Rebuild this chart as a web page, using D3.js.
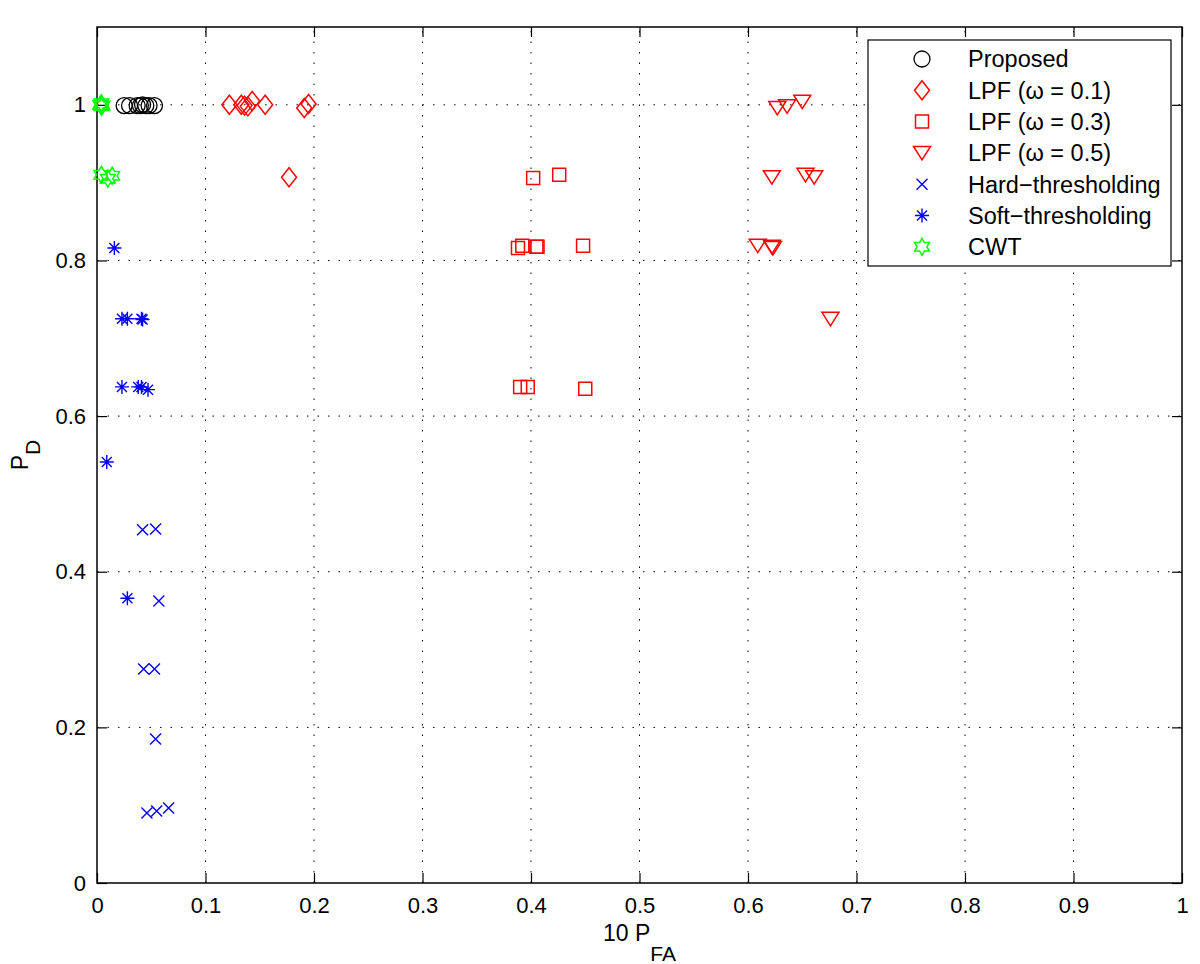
<!DOCTYPE html>
<html>
<head>
<meta charset="utf-8">
<script src="https://cdn.jsdelivr.net/npm/d3@7"></script>
<style>
  html, body { margin: 0; padding: 0; background: #fff; }
  svg { display: block; font-family: "Liberation Sans", Arial, Helvetica, sans-serif; }
</style>
</head>
<body>
<svg id="chart" width="1200" height="964"></svg>
<script>
// ---------------- data ----------------
const xTicks = [0, 0.1, 0.2, 0.3, 0.4, 0.5, 0.6, 0.7, 0.8, 0.9, 1];
const yTicks = [0, 0.2, 0.4, 0.6, 0.8, 1];
const xTickLabels = ["0", "0.1", "0.2", "0.3", "0.4", "0.5", "0.6", "0.7", "0.8", "0.9", "1"];
const yTickLabels = ["0", "0.2", "0.4", "0.6", "0.8", "1"];

const seriesNames = ["Proposed", "LPF (\u03C9 = 0.1)", "LPF (\u03C9 = 0.3)", "LPF (\u03C9 = 0.5)",
                     "Hard\u2212thresholding", "Soft\u2212thresholding", "CWT"];

const proposedX = [0.025, 0.030, 0.037, 0.040, 0.042, 0.045, 0.048, 0.053];
const proposedY = [0.999, 0.999, 0.999, 0.999, 1.000, 0.999, 0.999, 0.999];

const lpf1X = [0.122, 0.133, 0.136, 0.139, 0.143, 0.155, 0.191, 0.195, 0.177];
const lpf1Y = [1.000, 1.000, 0.999, 0.998, 1.005, 1.000, 0.996, 1.001, 0.907];

const lpf3X = [0.402, 0.426, 0.388, 0.392, 0.405, 0.406, 0.448, 0.390, 0.397, 0.450];
const lpf3Y = [0.906, 0.910, 0.816, 0.819, 0.8175, 0.8175, 0.819, 0.6375, 0.6375, 0.635];

const lpf5X = [0.627, 0.636, 0.650, 0.622, 0.653, 0.661, 0.609, 0.622, 0.623, 0.676];
const lpf5Y = [0.996, 0.998, 1.004, 0.907, 0.910, 0.907, 0.819, 0.8175, 0.816, 0.725];

const hardX = [0.042, 0.054, 0.057, 0.043, 0.053, 0.054, 0.046, 0.055, 0.066];
const hardY = [0.454, 0.455, 0.3625, 0.275, 0.275, 0.185, 0.090, 0.0925, 0.0964];

const softX = [0.016, 0.023, 0.028, 0.041, 0.042, 0.023, 0.038, 0.041, 0.047, 0.009, 0.028];
const softY = [0.816, 0.725, 0.725, 0.725, 0.724, 0.6375, 0.6375, 0.6375, 0.634, 0.541, 0.366];

const cwtX = [0.003, 0.004, 0.005, 0.004, 0.004, 0.010, 0.014];
const cwtY = [1.000, 1.002, 0.999, 0.998, 0.910, 0.905, 0.909];

// ---------------- layout ----------------
const svg = d3.select("#chart");
const L = 97, R = 1182, T = 27, B = 883;
const x = d3.scaleLinear().domain([0, 1]).range([L, R]);
const y = d3.scaleLinear().domain([0, 1.1]).range([B, T]);

// marker shapes
function markerPath(type) {
  switch (type) {
    case "circle": { const r = 8; return `M${-r},0A${r},${r} 0 1,0 ${r},0A${r},${r} 0 1,0 ${-r},0Z`; }
    case "diamond": return "M0,-9.5L7.5,0L0,9.5L-7.5,0Z";
    case "square": return "M-6.5,-6.5L6.5,-6.5L6.5,6.5L-6.5,6.5Z";
    case "triangle": return "M-8.5,-6.5L8.5,-6.5L0,7Z";
    case "x": return "M-5.5,-5.5L5.5,5.5M-5.5,5.5L5.5,-5.5";
    case "asterisk": return "M0,-7L0,7M-7,0L7,0M-5,-5L5,5M-5,5L5,-5";
    case "hexagram": {
      const Ro = 8.5, Ri = Ro / Math.sqrt(3);
      const pts = [];
      for (let i = 0; i < 12; i++) {
        const a = -Math.PI / 2 + i * Math.PI / 6;
        const rr = i % 2 === 0 ? Ro : Ri;
        pts.push([rr * Math.cos(a), rr * Math.sin(a)]);
      }
      return "M" + pts.map(p => p[0].toFixed(2) + "," + p[1].toFixed(2)).join("L") + "Z";
    }
  }
}

const series = [
  { name: seriesNames[0], xs: proposedX, ys: proposedY, type: "circle", color: "#000000", sw: 1.3 },
  { name: seriesNames[1], xs: lpf1X, ys: lpf1Y, type: "diamond", color: "#ff0000", sw: 1.5 },
  { name: seriesNames[2], xs: lpf3X, ys: lpf3Y, type: "square", color: "#ff0000", sw: 1.5 },
  { name: seriesNames[3], xs: lpf5X, ys: lpf5Y, type: "triangle", color: "#ff0000", sw: 1.5 },
  { name: seriesNames[4], xs: hardX, ys: hardY, type: "x", color: "#0000ff", sw: 1.4 },
  { name: seriesNames[5], xs: softX, ys: softY, type: "asterisk", color: "#0000ff", sw: 1.4 },
  { name: seriesNames[6], xs: cwtX, ys: cwtY, type: "hexagram", color: "#00ff00", sw: 1.5 }
];

// ---------------- grid ----------------
const grid = svg.append("g").attr("class", "grid");
grid.selectAll("line.gx").data(xTicks.filter(d => d > 0 && d < 1)).enter().append("line")
  .attr("x1", d => x(d)).attr("x2", d => x(d)).attr("y1", B).attr("y2", T)
  .attr("stroke", "#000").attr("stroke-width", 1).attr("stroke-dasharray", "1.5,9");
grid.selectAll("line.gy").data(yTicks.filter(d => d > 0)).enter().append("line")
  .attr("y1", d => y(d)).attr("y2", d => y(d)).attr("x1", L).attr("x2", R)
  .attr("stroke", "#000").attr("stroke-width", 1).attr("stroke-dasharray", "1.5,9");

// ---------------- axes ----------------
const fs = 22;
const xAxis = d3.axisBottom(x).tickValues(xTicks).tickFormat((d, i) => xTickLabels[i])
  .tickSizeInner(-10).tickSizeOuter(0).tickPadding(14);
const gx = svg.append("g").attr("transform", `translate(0,${B})`).call(xAxis);
gx.select(".domain").remove();
gx.selectAll("text").attr("font-size", fs).attr("fill", "#000").attr("font-family", "Liberation Sans, Arial, sans-serif");

const xAxisTop = d3.axisTop(x).tickValues(xTicks).tickFormat("").tickSizeInner(-10).tickSizeOuter(0);
const gxt = svg.append("g").attr("transform", `translate(0,${T})`).call(xAxisTop);
gxt.select(".domain").remove();

const yAxis = d3.axisLeft(y).tickValues(yTicks).tickFormat((d, i) => yTickLabels[i])
  .tickSizeInner(-10).tickSizeOuter(0).tickPadding(11);
const gy = svg.append("g").attr("transform", `translate(${L},0)`).call(yAxis);
gy.select(".domain").remove();
gy.selectAll("text").attr("font-size", fs).attr("fill", "#000").attr("font-family", "Liberation Sans, Arial, sans-serif");

const yAxisRight = d3.axisRight(y).tickValues(yTicks).tickFormat("").tickSizeInner(-10).tickSizeOuter(0);
const gyr = svg.append("g").attr("transform", `translate(${R},0)`).call(yAxisRight);
gyr.select(".domain").remove();

svg.selectAll(".tick line").attr("stroke", "#000").attr("stroke-width", 1.2);

// box
svg.append("rect").attr("x", L).attr("y", T).attr("width", R - L).attr("height", B - T)
  .attr("fill", "none").attr("stroke", "#000").attr("stroke-width", 1.5);

// ---------------- data marks ----------------
series.forEach(s => {
  const g = svg.append("g").attr("class", "series");
  g.selectAll("path").data(s.xs.map((v, i) => [v, s.ys[i]])).enter().append("path")
    .attr("transform", d => `translate(${x(d[0])},${y(d[1])})`)
    .attr("d", markerPath(s.type))
    .attr("fill", "none").attr("stroke", s.color).attr("stroke-width", s.sw);
});

// ---------------- axis labels ----------------
const xl = svg.append("text").attr("x", (L + R) / 2).attr("y", 941).attr("text-anchor", "middle")
  .attr("font-size", 23).attr("fill", "#000");
xl.append("tspan").text("10 P");
xl.append("tspan").attr("dy", 20).attr("font-size", 21).text("FA");

const yl = svg.append("text").attr("transform", `translate(28,${(T + B) / 2}) rotate(-90)`)
  .attr("text-anchor", "middle").attr("font-size", 23).attr("fill", "#000");
yl.append("tspan").text("P");
yl.append("tspan").attr("dy", 12).attr("font-size", 21).text("D");

// ---------------- legend ----------------
const lg = svg.append("g").attr("class", "legend");
lg.append("rect").attr("x", 868).attr("y", 40).attr("width", 303).attr("height", 226)
  .attr("fill", "#fff").attr("stroke", "#000").attr("stroke-width", 1.2);
const rows = lg.selectAll("g.row").data(series).enter().append("g")
  .attr("transform", (d, i) => `translate(0,${59 + i * 31.3})`);
rows.append("path").attr("transform", "translate(922,0)")
  .attr("d", d => markerPath(d.type)).attr("fill", "none")
  .attr("stroke", d => d.color).attr("stroke-width", d => d.sw);
rows.append("text").attr("x", 968).attr("y", 0).attr("dy", "0.36em")
  .attr("font-size", 23.5).attr("fill", "#000").text(d => d.name);
</script>
</body>
</html>
